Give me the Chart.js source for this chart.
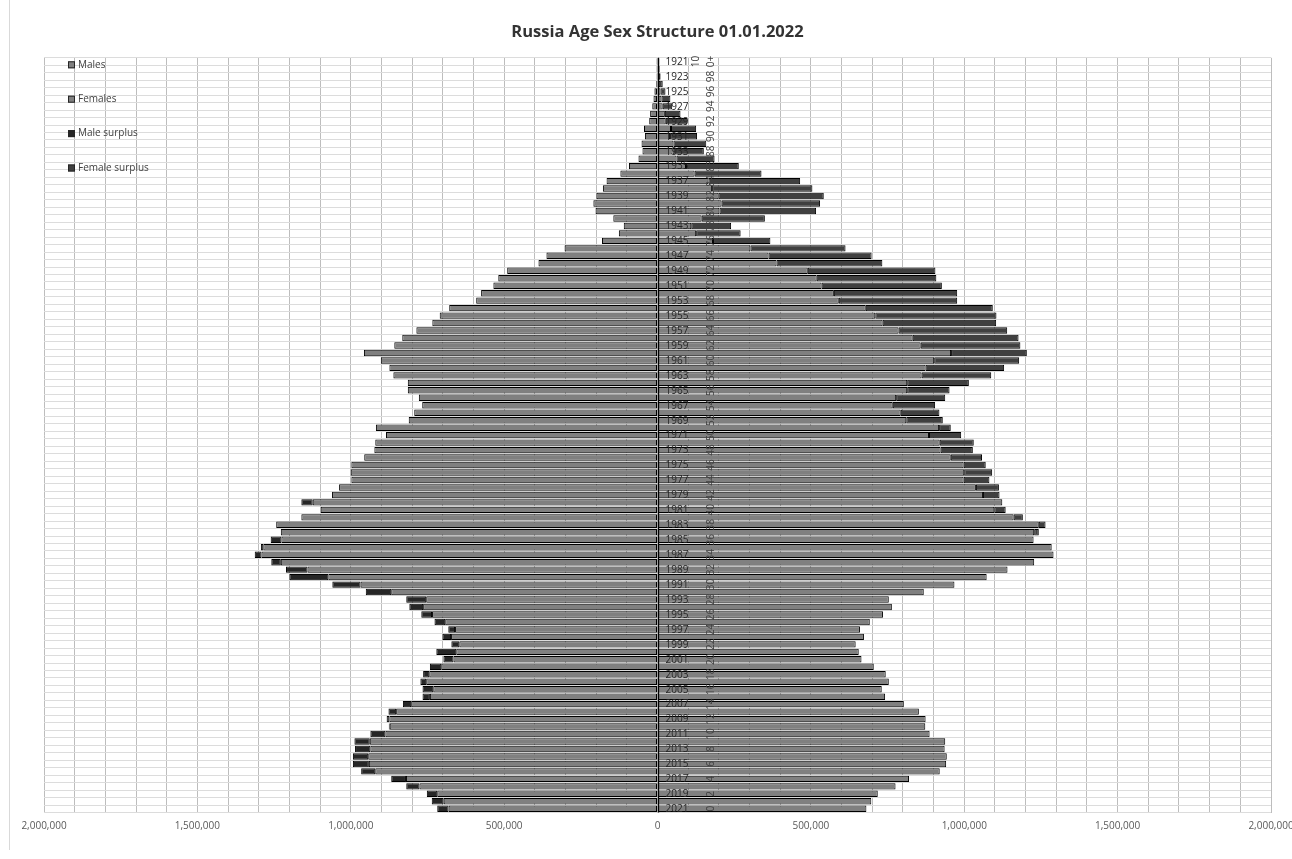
<!DOCTYPE html>
<html>
<head>
<meta charset="utf-8">
<script src="https://cdn.jsdelivr.net/npm/chart.js@4.4.1/dist/chart.umd.min.js"></script>
<style>
html,body{margin:0;padding:0;background:#fff;}
#wrap{position:relative;width:1292px;height:859px;overflow:hidden;}
#frame{position:absolute;left:9px;top:0;width:0;height:850px;border-left:1px solid #d9d9d9;}
canvas{position:absolute;left:0;top:0;}
</style>
</head>
<body>
<div id="wrap"><div id="frame"></div><canvas id="c" width="1292" height="859"></canvas></div>
<script>
const years = ['1921','1922','1923','1924','1925','1926','1927','1928','1929','1930',
'1931','1932','1933','1934','1935','1936','1937','1938','1939','1940',
'1941','1942','1943','1944','1945','1946','1947','1948','1949','1950',
'1951','1952','1953','1954','1955','1956','1957','1958','1959','1960',
'1961','1962','1963','1964','1965','1966','1967','1968','1969','1970',
'1971','1972','1973','1974','1975','1976','1977','1978','1979','1980',
'1981','1982','1983','1984','1985','1986','1987','1988','1989','1990',
'1991','1992','1993','1994','1995','1996','1997','1998','1999','2000',
'2001','2002','2003','2004','2005','2006','2007','2008','2009','2010',
'2011','2012','2013','2014','2015','2016','2017','2018','2019','2020','2021'];

const ages = ['100+','99','98','97','96','95','94','93','92','91',
'90','89','88','87','86','85','84','83','82','81',
'80','79','78','77','76','75','74','73','72','71',
'70','69','68','67','66','65','64','63','62','61',
'60','59','58','57','56','55','54','53','52','51',
'50','49','48','47','46','45','44','43','42','41',
'40','39','38','37','36','35','34','33','32','31',
'30','29','28','27','26','25','24','23','22','21',
'20','19','18','17','16','15','14','13','12','11',
'10','9','8','7','6','5','4','3','2','1','0'];

const males = [3000,3000,3000,4000,10000,13000,17000,24000,27000,44000,
41000,52000,49000,62000,93000,121000,166000,178000,199000,209000,
202000,144000,110000,126000,181000,303000,362000,388000,490000,519000,
535000,575000,591000,679000,710000,734000,786000,832000,858000,957000,
902000,874000,861000,814000,814000,778000,767000,793000,811000,918000,
885000,920000,923000,956000,998000,1000000,998000,1038000,1061000,1161000,
1098000,1161000,1243000,1228000,1261000,1293000,1313000,1259000,1211000,1200000,
1060000,951000,819000,809000,770000,727000,682000,701000,672000,721000,
698000,742000,764000,773000,766000,766000,830000,877000,883000,876000,
936000,988000,986000,993000,993000,966000,868000,819000,752000,736000,
718000];

const females = [6000,7000,10000,17000,26000,42000,48000,75000,97000,126000,
129000,159000,151000,186000,265000,339000,465000,505000,542000,530000,
517000,350000,240000,271000,368000,613000,698000,733000,906000,909000,
927000,977000,977000,1093000,1105000,1104000,1140000,1177000,1183000,1204000,
1179000,1130000,1088000,1015000,952000,938000,905000,919000,930000,956000,
990000,1031000,1028000,1058000,1070000,1091000,1082000,1113000,1115000,1124000,
1135000,1191000,1265000,1243000,1226000,1285000,1291000,1228000,1141000,1073000,
968000,868000,754000,764000,735000,692000,660000,673000,646000,656000,
665000,705000,744000,754000,731000,742000,803000,852000,874000,873000,
887000,938000,936000,943000,941000,920000,820000,776000,718000,697000,
681000];

const seriesNames = ['Males', 'Females', 'Male surplus', 'Female surplus'];
const xTickStep = 100000;
const xLabelStep = 500000;
const xMax = 2000000;

// derived series for the stacked pyramid
const maleBase = males.map((m, i) => -Math.min(m, females[i]));
const femaleBase = females.map((f, i) => Math.min(males[i], f));
const maleSurplus = males.map((m, i) => m > females[i] ? -(m - females[i]) : null);
const femaleSurplus = females.map((f, i) => f > males[i] ? (f - males[i]) : null);

const FONT = 'Open Sans';

const overlay = {
  id: 'overlay',
  afterDatasetsDraw(chart) {
    const {ctx, chartArea, scales} = chart;
    const x0 = Math.round(scales.x.getPixelForValue(0)) + 0.5;
    ctx.save();
    ctx.strokeStyle = '#000';
    ctx.lineWidth = 1.3;
    ctx.beginPath();
    ctx.moveTo(x0, chartArea.top);
    ctx.lineTo(x0, chartArea.bottom);
    ctx.stroke();
    ctx.restore();
  },
  afterDraw(chart) {
    const {ctx, chartArea, scales} = chart;
    ctx.save();
    const x0 = scales.x.getPixelForValue(0);
    ctx.font = '10px "' + FONT + '"';
    ctx.textBaseline = 'middle';
    // year labels, every second category, right of the zero line
    ctx.fillStyle = '#262626';
    ctx.textAlign = 'left';
    years.forEach((yr, i) => {
      if (i % 2) return;
      ctx.fillText(yr, x0 + 8, scales.y.getPixelForValue(i) + 0.5);
    });
    // age labels (rotated secondary labels)
    const xa = x0 + 54;
    ctx.fillStyle = '#404040';
    ctx.textAlign = 'center';
    ages.forEach((a, i) => {
      if (i % 2) return;
      const y = scales.y.getPixelForValue(i);
      ctx.save();
      ctx.translate(xa, y);
      ctx.rotate(-Math.PI / 2);
      if (a.length > 3) {
        ctx.fillText(a.slice(0, 2), 0, -15);
        ctx.fillText(a.slice(2), 0, 0);
      } else {
        ctx.fillText(a, 0, 0);
      }
      ctx.restore();
    });
    // legend
    ctx.textAlign = 'left';
    chart.data.datasets.forEach((ds, i) => {
      const y = chartArea.top + 7 + i * 34.4;
      const bx = chartArea.left + 24;
      ctx.fillStyle = ds.backgroundColor;
      ctx.fillRect(bx, y - 3.5, 7, 7);
      ctx.strokeStyle = '#262626';
      ctx.lineWidth = 1;
      ctx.strokeRect(bx + 0.5, y - 3, 6, 6);
      ctx.fillStyle = '#404040';
      ctx.fillText(ds.label, bx + 10, y);
    });
    ctx.restore();
  }
};

const barCommon = {borderColor: '#000', borderWidth: 1, borderSkipped: false, categoryPercentage: 1, barPercentage: 0.86};

new Chart(document.getElementById('c'), {
  type: 'bar',
  data: {
    labels: years,
    datasets: [
      Object.assign({label: seriesNames[0], data: maleBase, backgroundColor: '#808080'}, barCommon),
      Object.assign({label: seriesNames[1], data: femaleBase, backgroundColor: '#808080'}, barCommon),
      Object.assign({label: seriesNames[2], data: maleSurplus, backgroundColor: '#262626'}, barCommon),
      Object.assign({label: seriesNames[3], data: femaleSurplus, backgroundColor: '#404040'}, barCommon)
    ]
  },
  options: {
    responsive: false,
    animation: false,
    devicePixelRatio: 1,
    indexAxis: 'y',
    layout: {padding: {left: 44, right: 21, top: 0, bottom: 18.5}},
    plugins: {
      legend: {display: false},
      tooltip: {enabled: false},
      title: {
        display: true,
        text: 'Russia Age Sex Structure 01.01.2022',
        color: '#333',
        font: {family: FONT, size: 16.5, weight: 'bold'},
        padding: {top: 22, bottom: 16}
      }
    },
    scales: {
      x: {
        type: 'linear',
        min: -xMax, max: xMax,
        stacked: true,
        position: 'bottom',
        grid: {color: '#bdbdbd', drawTicks: false, lineWidth: 1},
        border: {display: false},
        ticks: {
          stepSize: xTickStep, autoSkip: false, maxRotation: 0, minRotation: 0, padding: 8,
          color: '#595959', font: {family: FONT, size: 10},
          callback: v => (Math.round(v) % xLabelStep === 0) ? Math.abs(Math.round(v)).toLocaleString('en-US') : ''
        },
        afterFit: s => { s.paddingLeft = 0; s.paddingRight = 0; }
      },
      y: {
        type: 'category',
        stacked: true,
        position: {x: 0},
        offset: true,
        grid: {color: '#dcdcdc', drawTicks: false, offset: true},
        border: {display: false},
        ticks: {display: false, autoSkip: false}
      }
    }
  },
  plugins: [overlay]
});
</script>
</body>
</html>
